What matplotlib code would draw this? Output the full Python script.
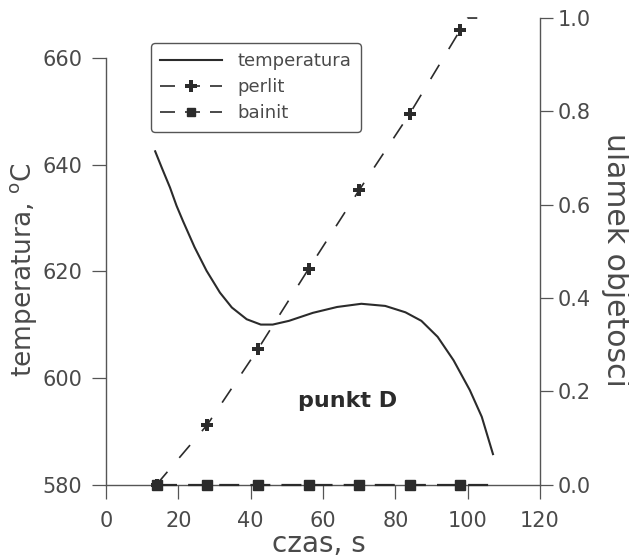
import matplotlib
matplotlib.use("Agg")
import matplotlib.pyplot as plt
from matplotlib.lines import Line2D

# czas [s] i temperatura [oC]
time_temp = [13.6, 15.5, 17.7, 19.5, 21.3, 24.5, 27.8, 31.5, 34.8, 38.9, 42.8, 46.1,
             50.6, 57.2, 63.9, 70.6, 77.2, 82.8, 87.2, 91.7, 96.1, 100.6, 103.9, 107.0]
temperature = [642.5, 639.3, 635.7, 632.3, 629.4, 624.5, 620.1, 616.0, 613.2, 611.0, 610.0, 610.0,
               610.7, 612.2, 613.3, 613.9, 613.5, 612.3, 610.7, 607.7, 603.3, 597.7, 592.7, 585.7]

# udzialy objetosciowe
time_marks = [14, 28, 42, 56, 70, 84, 98]
perlit = [0.0, 0.128, 0.29, 0.462, 0.631, 0.795, 0.975]
perlit_tail_time = [98, 100, 107]
perlit_tail = [0.975, 1.0, 1.0]
bainit_time = [14, 28, 42, 56, 70, 84, 98, 107]
bainit = [0.0, 0.0, 0.0, 0.0, 0.0, 0.0, 0.0, 0.0]

x_ticks = [0, 20, 40, 60, 80, 100, 120]
temp_ticks = [580, 600, 620, 640, 660]
frac_ticks = [0.0, 0.2, 0.4, 0.6, 0.8, 1.0]

INK = "#2b2b2b"
AXIS = "#555555"
TEXT = "#4a4a4a"

plt.rcParams["font.family"] = ["DejaVu Sans"]

fig = plt.figure(figsize=(6.29, 5.58), dpi=100)
ax = fig.add_axes([0.1685, 0.1317, 0.690, 0.836])
ax2 = ax.twinx()

ax.set_xlim(0, 120)
ax.set_ylim(580, 667.5)
ax2.set_ylim(0, 1.0)

ax.plot(time_temp, temperature, color=INK, lw=1.5, zorder=3)

dash = (0, (10, 11))
ax2.plot(time_marks, perlit, color=INK, lw=1.2, ls=dash, marker="P",
         markersize=9, markeredgewidth=0, zorder=3, clip_on=False)
ax2.plot(perlit_tail_time, perlit_tail, color=INK, lw=1.2, ls=(0, (0, 8, 6, 20)), clip_on=False)
ax2.plot(bainit_time, bainit, color=INK, lw=1.6, ls=(0, (9, 5)), clip_on=False, zorder=3)
ax2.plot(time_marks, bainit[:len(time_marks)], ls="none", marker="s", color=INK,
         markersize=7, clip_on=False, zorder=4)

ax.text(66.7, 595.7, "punkt D", fontsize=16, fontweight="bold", color=INK,
        ha="center", va="center")

# osie
for a in (ax, ax2):
    a.spines["top"].set_visible(False)
ax.spines["right"].set_visible(False)
ax2.spines["left"].set_visible(False)
ax2.spines["bottom"].set_visible(False)
ax.spines["left"].set_bounds(580, 660)
ax2.spines["right"].set_bounds(0, 1.0)
for s in (ax.spines["left"], ax.spines["bottom"], ax2.spines["right"]):
    s.set_color(AXIS)
    s.set_linewidth(1.0)

ax.set_xticks(x_ticks)
ax.set_yticks(temp_ticks)
ax2.set_yticks(frac_ticks)
ax2.set_yticklabels([f"{v:.1f}" for v in frac_ticks])

ax.tick_params(axis="x", direction="out", length=10, width=0.9, color=AXIS,
               labelsize=15, labelcolor=TEXT, pad=9)
ax.tick_params(axis="y", direction="out", length=10, width=0.9, color=AXIS,
               labelsize=15, labelcolor=TEXT, pad=7)
ax2.tick_params(axis="y", direction="out", length=9, width=0.9, color=AXIS,
                labelsize=15, labelcolor=TEXT, pad=4)

ax.set_xlabel("czas, s", fontsize=20, color=TEXT, va="center")
ax.xaxis.set_label_coords(0.491, -0.1275)
ax.set_ylabel(r"temperatura, $^{\rm o}$C", fontsize=19, color=TEXT, va="center")
ax.yaxis.set_label_coords(-0.189, 0.46)
ax2.set_ylabel("ulamek objetosci", fontsize=21.5, color=TEXT, rotation=270, va="center")
ax2.yaxis.set_label_coords(1.175, 0.481)

handles = [
    Line2D([], [], color=INK, lw=1.5),
    Line2D([], [], color=INK, lw=1.2, ls=(0, (9, 6)), marker="P", markersize=9, markeredgewidth=0),
    Line2D([], [], color=INK, lw=1.2, ls=(0, (9, 6)), marker="s", markersize=6),
]
leg = ax.legend(handles, ["temperatura", "perlit", "bainit"], loc="upper left",
                bbox_to_anchor=(0.104, 0.946), borderaxespad=0, fontsize=13,
                handlelength=3.4, handletextpad=0.9, labelspacing=0.45,
                borderpad=0.5, fancybox=True, framealpha=1, labelcolor=TEXT)
leg.get_frame().set_edgecolor(AXIS)
leg.get_frame().set_linewidth(1.0)
leg.set_zorder(5)

fig.savefig("out.png", dpi=100, facecolor="white")
